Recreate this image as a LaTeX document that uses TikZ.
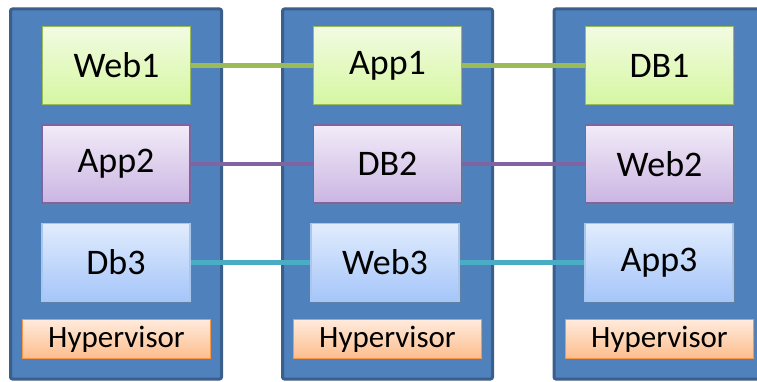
\documentclass[tikz,border=0pt]{standalone}
\usepackage{fontspec}
\setmainfont{Carlito}
\usetikzlibrary{shadows}
\definecolor{hostfill}{HTML}{4F81BD}
\definecolor{hostdraw}{HTML}{3A5F8B}
\definecolor{gtop}{HTML}{F2FBE2}
\definecolor{gbot}{HTML}{D6F7A1}
\definecolor{gdraw}{HTML}{9BBB59}
\definecolor{ptop}{HTML}{F2EBF8}
\definecolor{pbot}{HTML}{CBB5E2}
\definecolor{pdraw}{HTML}{8064A2}
\definecolor{btop}{HTML}{E1ECFD}
\definecolor{bbot}{HTML}{A5C5FA}
\definecolor{bdraw}{HTML}{A9C6EC}
\definecolor{htop}{HTML}{FFEBDD}
\definecolor{hbot}{HTML}{FDBD8C}
\definecolor{hdraw}{HTML}{F79646}
\definecolor{tealc}{HTML}{4BACC6}
\tikzset{
  x=1pt, y=-1pt,
  host/.style={rectangle, rounded corners=2pt, fill=hostfill, draw=hostdraw, line width=3pt,
    minimum width=#1, minimum height=370pt, inner sep=0pt,
    drop shadow={opacity=0.25, shadow xshift=1pt, shadow yshift=-1pt}},
  vm/.style={rectangle, line width=1.8pt, minimum width=148pt, minimum height=78pt, inner sep=0pt,
    font=\fontsize{36}{40}\selectfont, text=black,
    drop shadow={opacity=0.35, shadow xshift=1.5pt, shadow yshift=-1.5pt}},
  greenvm/.style={vm, draw=gdraw, top color=gtop, bottom color=gbot},
  purplevm/.style={vm, draw=pdraw, top color=ptop, bottom color=pbot},
  bluevm/.style={vm, draw=bdraw, top color=btop, bottom color=bbot},
  hyper/.style={rectangle, line width=1.8pt, minimum width=188pt, minimum height=39pt, inner sep=0pt,
    draw=hdraw, top color=htop, bottom color=hbot, font=\fontsize{31}{34}\selectfont, text=black,
    drop shadow={opacity=0.3, shadow xshift=1pt, shadow yshift=-1pt}},
  link/.style={line width=4.5pt, draw=#1},
}
\begin{document}
\begin{tikzpicture}
\useasboundingbox (0,0) rectangle (757,382);
\fill[white] (0,0) rectangle (757,382);
% hosts
\node[host=211pt] (h1) at (116,194) {};
\node[host=210pt] (h2) at (387.5,194) {};
\node[host=212pt] (h3) at (660,194) {};
% VMs
\node[greenvm] (web1) at (116.5,65.5) {Web1};
\node[purplevm] (app2) at (116,164) {App2};
\node[bluevm] (db3) at (116,262.5) {Db3};
\node[hyper] (hv1) at (116.5,339) {Hypervisor};
\node[greenvm] (app1) at (387.5,65.5) {App1};
\node[purplevm] (db2) at (387.5,164) {DB2};
\node[bluevm] (web3) at (385,262.5) {Web3};
\node[hyper] (hv2) at (387.5,339) {Hypervisor};
\node[greenvm] (db1) at (659.5,65.5) {DB1};
\node[purplevm] (web2) at (659.5,164) {Web2};
\node[bluevm] (app3) at (659,262.5) {App3};
\node[hyper] (hv3) at (659.5,339) {Hypervisor};
% links
\draw[link=gdraw] (web1.east) -- (app1.west);
\draw[link=gdraw] (app1.east) -- (db1.west);
\draw[link=pdraw] (app2.east) -- (db2.west);
\draw[link=pdraw] (db2.east) -- (web2.west);
\draw[link=tealc] (db3.east) -- (web3.west);
\draw[link=tealc] (web3.east) -- (app3.west);
\end{tikzpicture}
\end{document}
